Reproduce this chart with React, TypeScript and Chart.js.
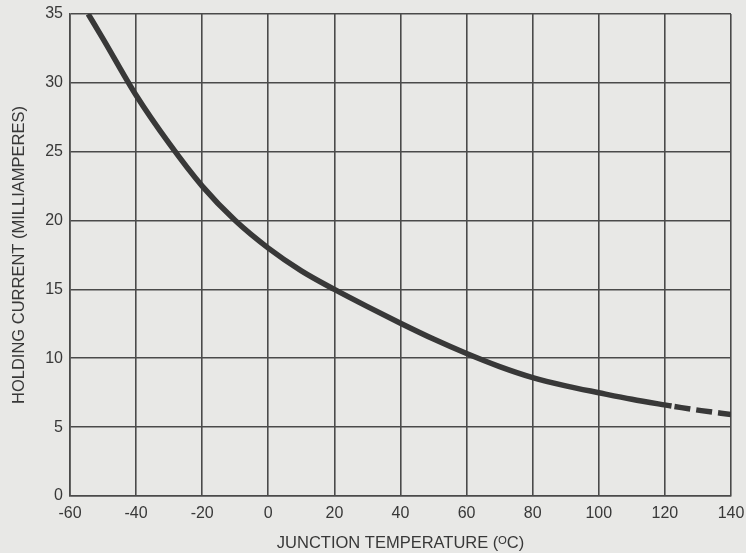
import React, { useEffect, useRef } from "react";
import { Chart, registerables } from "chart.js";

Chart.register(...registerables);

const solidTemps = [-54.5, -50, -40, -30, -20, -10, 0, 10, 20, 30, 40, 50, 60, 70, 80, 90, 100, 110, 122];
const solidCurrent = [35, 33.2, 29.1, 25.6, 22.5, 20.0, 18.0, 16.35, 15.0, 13.75, 12.55, 11.4, 10.35, 9.4, 8.6, 8.0, 7.5, 7.02, 6.53];
const dashedTemps = [122, 131, 140];
const dashedCurrent = [6.53, 6.2, 5.92];
const xTicks = [-60, -40, -20, 0, 20, 40, 60, 80, 100, 120, 140];
const yTicks = [0, 5, 10, 15, 20, 25, 30, 35];

const xTitle = "JUNCTION TEMPERATURE (ᴼC)";
const yTitle = "HOLDING CURRENT (MILLIAMPERES)";

const bgPlugin = {
  id: "bg",
  beforeDraw(chart: any) {
    const { ctx, width, height } = chart;
    ctx.save();
    ctx.fillStyle = "#e8e8e6";
    ctx.fillRect(0, 0, width, height);
    ctx.restore();
  },
};

export default function App() {
  const ref = useRef<HTMLCanvasElement | null>(null);
  useEffect(() => {
    if (!ref.current) return;
    const lineColor = "#383838";
    const gridColor = "#4a4a4a";
    const textColor = "#383838";
    const font = "'Liberation Sans', Arial, Helvetica, sans-serif";
    const chart = new Chart(ref.current, {
      type: "line",
      data: {
        datasets: [
          {
            data: solidTemps.map((t, i) => ({ x: t, y: solidCurrent[i] })),
            borderColor: lineColor,
            borderWidth: 5.5,
            pointRadius: 0,
            cubicInterpolationMode: "monotone",
            fill: false,
          },
          {
            data: dashedTemps.map((t, i) => ({ x: t, y: dashedCurrent[i] })),
            borderColor: lineColor,
            borderWidth: 5.5,
            borderDash: [16, 6],
            borderDashOffset: 19,
            pointRadius: 0,
            cubicInterpolationMode: "monotone",
            fill: false,
          },
        ],
      },
      options: {
        animation: false,
        responsive: false,
        maintainAspectRatio: false,
        layout: { padding: { left: 0, right: 15, top: 14, bottom: 0 } },
        plugins: { legend: { display: false }, tooltip: { enabled: false } },
        scales: {
          x: {
            type: "linear",
            min: -60,
            max: 140,
            afterBuildTicks: (scale: any) => {
              scale.ticks = xTicks.map((v) => ({ value: v }));
            },
            afterFit: (scale: any) => {
              scale.height = 57;
              scale.paddingLeft = 0;
              scale.paddingRight = 0;
            },
            grid: { color: gridColor, lineWidth: 1.6, drawTicks: false },
            border: { color: gridColor, width: 1.6 },
            ticks: {
              color: textColor,
              padding: 8,
              maxRotation: 0,
              font: { family: font, size: 16 },
            },
            title: {
              display: true,
              text: xTitle,
              color: textColor,
              font: { family: font, size: 16.5 },
              padding: { top: 0, bottom: 0 },
            },
          },
          y: {
            type: "linear",
            min: 0,
            max: 35,
            afterBuildTicks: (scale: any) => {
              scale.ticks = yTicks.map((v) => ({ value: v }));
            },
            afterFit: (scale: any) => {
              scale.width = 70;
              scale.paddingTop = 0;
              scale.paddingBottom = 0;
            },
            grid: { color: gridColor, lineWidth: 1.6, drawTicks: false },
            border: { color: gridColor, width: 1.6 },
            ticks: {
              color: textColor,
              padding: 7,
              font: { family: font, size: 16 },
            },
            title: {
              display: true,
              text: yTitle,
              color: textColor,
              font: { family: font, size: 16.5 },
              padding: { top: 10, bottom: 0 },
            },
          },
        },
      },
      plugins: [bgPlugin],
    } as any);
    return () => chart.destroy();
  }, []);
  return (
    <div style={{ position: "fixed", left: 0, top: 0, width: 746, height: 553, background: "#e8e8e6" }}>
      <canvas ref={ref} width={746} height={553} style={{ width: 746, height: 553, display: "block" }} />
    </div>
  );
}
